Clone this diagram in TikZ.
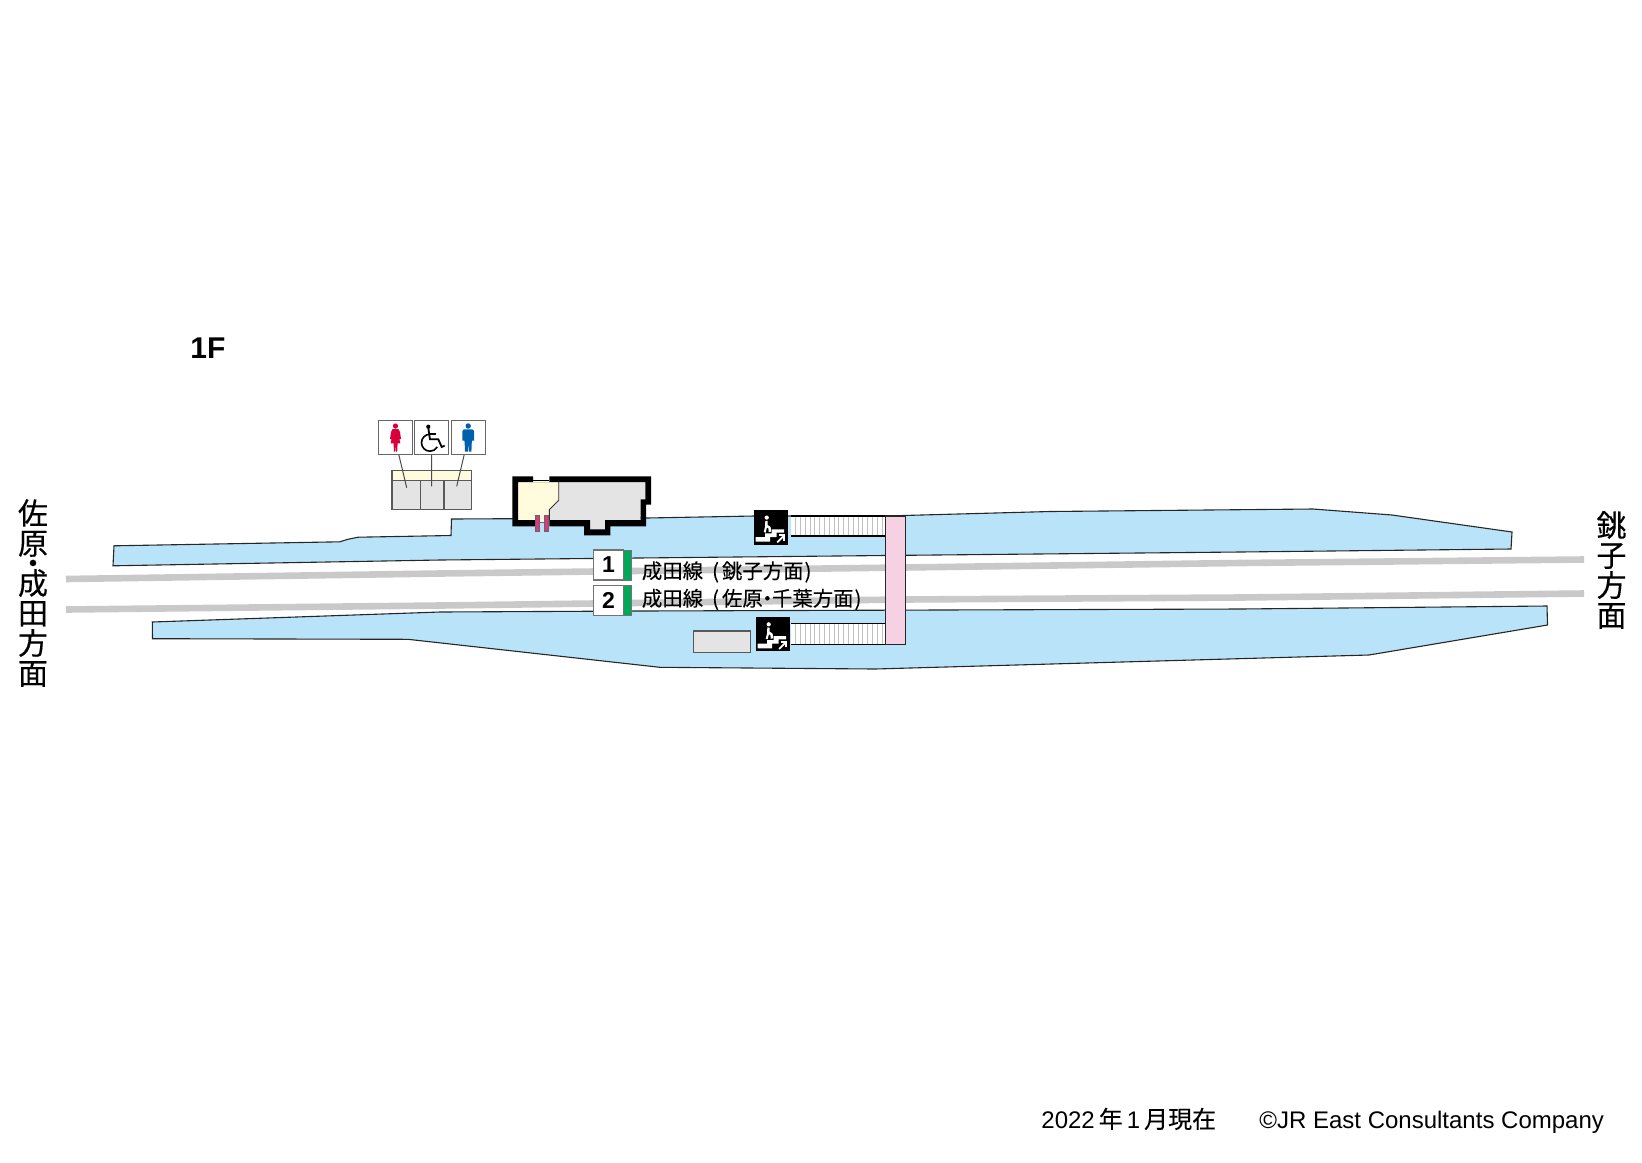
\documentclass[tikz,border=0pt]{standalone}
\usepackage{fontspec}
\setmainfont{Liberation Sans}
\newfontfamily\jp[FakeBold=0.12]{Noto Sans CJK JP}
\newfontfamily\jpb[FakeBold=0.35]{Noto Sans CJK JP}
\definecolor{plat}{HTML}{B9E3F9}
\definecolor{lgray}{HTML}{E4E4E4}
\definecolor{cream}{HTML}{FFFBDC}
\definecolor{bridge}{HTML}{F6D1E3}
\definecolor{track}{HTML}{C9C9C9}
\definecolor{pgreen}{HTML}{00A85A}
\definecolor{wred}{HTML}{D7003A}
\definecolor{mblue}{HTML}{0060AE}
\definecolor{door}{HTML}{E0357F}
\newcommand{\dotj}{\makebox[0.45em][c]{・}}
\tikzset{
 platform/.style={fill=plat,draw=black!85,line width=.55pt,line join=miter},
 trackline/.style={draw=track,line width=3.3pt},
 iconbox/.style={draw=black!60,fill=white,line width=.6pt,minimum size=17pt,inner sep=0pt},
 numbox/.style={draw=black!55,fill=white,line width=.55pt,minimum width=14.8pt,minimum height=15pt,inner sep=0pt,font=\bfseries\fontsize{11.5}{12}\selectfont},
 greenbar/.style={draw=black!55,fill=pgreen,line width=.4pt},
 leader/.style={draw=black!70,line width=.5pt},
 room/.style={fill=lgray,draw=black!65,line width=.55pt},
 linetext/.style={font=\jp\fontsize{10.2}{10.2}\selectfont,anchor=base west,inner sep=0pt},
 dirtext/.style={font=\jpb\fontsize{15}{15}\selectfont,align=center,inner sep=0pt,text width=16pt},
 foot/.style={font=\fontsize{12}{12}\selectfont,anchor=base west,inner sep=0pt},
 stairicon/.pic={
  \fill[black] (0,0) rectangle (34.3,34.3);
  \fill[white] (13,7.3) circle (2.1);
  \draw[white,line width=1.2pt,line join=round] (12.8,10.5) -- (12.6,15.5) -- (15.8,17.2) -- (16.2,21.5);
  \draw[white,line width=1pt] (12.6,15.5) -- (11,22);
  \fill[white] (2,31.3) -- (2,26.7) -- (11.3,26.7) -- (11.3,23) -- (18,23) -- (18,19) -- (30.3,19) -- (30.3,22.3) -- (23,22.3) -- (23,26.7) -- (16.3,26.7) -- (16.3,31.3) -- cycle;
  \draw[white,line width=.9pt] (23.5,32) -- (30.2,25.3);
  \draw[white,line width=.9pt] (25.2,25) -- (30.6,25) -- (30.6,30.4);
 }
}
\begin{document}
\begin{tikzpicture}[x=0.5pt,y=-0.5pt]
\useasboundingbox (0,0) rectangle (1642,1162);
\begin{scope}[yshift=-0.5pt]
% tracks
\draw[trackline] (66,578) -- (440,572.5) -- (903,566.5) -- (1240,562) -- (1584,558.5);
\draw[trackline] (66,608.5) -- (440,604.5) -- (903,598.5) -- (1240,596.5) -- (1584,592.5);
% platforms
\draw[platform] (114,544.8) -- (340,540.8) -- (347,538.5) -- (358,536.2) -- (451,534.5) -- (451.5,518) -- (647,517) -- (754,515) -- (885,515) -- (1050,510.5) -- (1313,508) -- (1392,514) -- (1512,531) -- (1511,548) -- (1240,551) -- (885,554.5) -- (440,559) -- (113,564.8) -- cycle;
\draw[platform] (152.3,621) -- (440,611) -- (640,610) -- (1240,608) -- (1547,605) -- (1547.5,624) -- (1369,654) -- (875,668) -- (660,666.3) -- (408,638.3) -- (152.5,637.7) -- cycle;
% toilets
\fill[lgray] (392,479.3) rectangle (471.7,508.7);
\fill[cream] (392,469.3) rectangle (471.7,479.3);
\draw[black!65,line width=.55pt] (392,469.3) rectangle (471.7,508.7);
\draw[black!65,line width=.55pt] (392,479.3) -- (471.7,479.3) (420.3,479.3) -- (420.3,508.7) (444,479.3) -- (444,508.7);
\node[iconbox] (female) at (395.5,436.5) {};
\node[iconbox] (wheel) at (431.5,436.5) {};
\node[iconbox] (male) at (468.3,436.5) {};
\coordinate (fend) at (406.7,486.7);
\coordinate (wend) at (431.7,485.3);
\coordinate (mend) at (456.7,485.3);
\draw[leader] ([xshift=1.7pt]female.south) -- (fend);
\draw[leader] (wheel.south) -- (wend);
\draw[leader] ([xshift=-2.1pt]male.south) -- (mend);
% female figure
\fill[wred] (395.5,425) circle (2.6);
\fill[wred] (392.5,428.2) -- (398.5,428.2) -- (400,431) -- (401,438) -- (399.4,438.3) -- (398.4,434) -- (400.4,442.4) -- (397.6,442.4) -- (397.2,450.5) -- (395.9,450.5) -- (395.6,443) -- (395.2,450.5) -- (393.9,450.5) -- (393.6,442.4) -- (390.6,442.4) -- (392.6,434) -- (391.6,438.3) -- (390,438) -- (391,431) -- cycle;
% male figure
\fill[mblue] (468.2,425) circle (2.7);
\fill[mblue] (463.8,428.4) -- (472.6,428.4) -- (474,430) -- (474,439.5) -- (472.2,439.5) -- (471.8,441) -- (471.4,450.6) -- (468.8,450.6) -- (468.3,441.5) -- (467.8,450.6) -- (465,450.6) -- (464.6,441) -- (464.2,439.5) -- (462.4,439.5) -- (462.4,430) -- cycle;
% wheelchair figure
\fill[black] (428.3,425.7) circle (2.1);
\draw[black,line width=.9pt] (428.3,427) -- (430,438.3) -- (438.3,438.3) -- (441.7,446) -- (444.6,444.6);
\draw[black,line width=.8pt] (429,432.7) -- (436,432.7);
\draw[black,line width=.8pt] (430,433.2) arc[start angle=-90,end angle=-330,radius=8.5];
% station building
\fill[lgray] (518,481) -- (645.3,481) -- (645.3,498.3) -- (640.7,498.3) -- (640.7,519) -- (605,519) -- (605,528.3) -- (590,528.3) -- (590,519) -- (518,519) -- cycle;
\fill[cream] (518,479.3) -- (558.7,479.3) -- (558.7,499.3) -- (549.3,508.7) -- (549.3,522) -- (518,522) -- cycle;
\draw[black!80,line width=.45pt] (558.7,481) -- (558.7,499.3) -- (549.3,508.7) -- (549.3,519);
\draw[black,line width=.5pt] (533,479.3) -- (549.3,479.3);
\fill[black] (512.3,475.3) -- (533,475.3) -- (533,481) -- (549.3,481) -- (549.3,475.3) -- (651,475.3) -- (651,503.7) -- (646,503.7) -- (646,525.3) -- (610.3,525.3) -- (610.3,534.3) -- (584,534.3) -- (584,525.3) -- (549.3,525.3) -- (549.3,519) -- (590,519) -- (590,528.3) -- (605,528.3) -- (605,519) -- (640.7,519) -- (640.7,498.3) -- (645.3,498.3) -- (645.3,481) -- (518,481) -- (518,519) -- (535,519) -- (535,525.3) -- (512.3,525.3) -- cycle;
\fill[plat] (535,521) rectangle (549.3,526);
\draw[black!60,line width=.4pt] (535,521.2) -- (549,521.2);
\draw[black!60,fill=door,line width=.35pt] (535,514) rectangle (539.3,530);
\draw[black!60,fill=door,line width=.35pt] (544,514) rectangle (548,530);
% bridge and stairs
\foreach \yy/\yb in {515/535,622.7/643.3}{
  \fill[white] (791,\yy) rectangle (885.7,\yb);
  \foreach \xx in {795.5,800.3,...,884}{ \draw[black!25,line width=.3pt] (\xx,\yy) -- (\xx,\yb); }
  \draw[black,line width=.55pt] (791,\yy) -- (885.7,\yy) (791,\yb) -- (885.7,\yb);
}
\draw[fill=bridge,draw=black!85,line width=.55pt] (885.7,515) rectangle (905.3,643.3);
\pic at (753.7,509.3) {stairicon};
\pic at (755.7,616) {stairicon};
% gray room
\draw[room] (693.3,630) rectangle (750.7,651.7);
% numbers
\node[numbox] (n1) at (608.5,564) {1};
\node[numbox] (n2) at (608.5,599.5) {2};
\draw[greenbar] (623.3,549) rectangle (631.7,579);
\draw[greenbar] (623.3,584.7) rectangle (631.7,614.4);
% labels
\node[linetext] (l1) at (641.5,577.5) {成田線\hspace{4.5pt}(\hspace{1.5pt}銚子方面\hspace{.5pt})};
\node[linetext] (l2) at (641.5,605) {成田線\hspace{4.5pt}(\hspace{1.5pt}佐原\dotj 千葉方面\hspace{.5pt})};
\node[dirtext] (dleft) at (33,592) {佐\\原\\[-5pt]\dotj\\[-5pt]成\\田\\方\\面};
\node[dirtext] (dright) at (1611.5,569) {銚\\子\\方\\面};
\node[font=\bfseries\fontsize{15}{15}\selectfont,anchor=west,inner sep=0pt] (floor) at (190,347) {1F};
\node[foot] (date) at (1041,1127) {2022\,{\jp 年}\,1\,{\jp 月現在}};
\node[foot] (copy) at (1259,1127) {©JR East Consultants Company};
\end{scope}
\end{tikzpicture}
\end{document}
